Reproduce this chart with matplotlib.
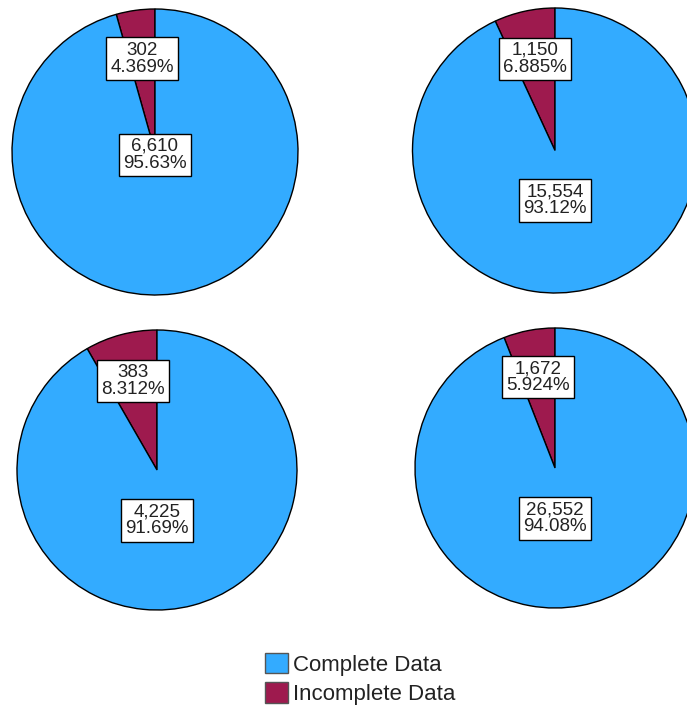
import matplotlib
matplotlib.use("Agg")
import matplotlib.pyplot as plt
from matplotlib.patches import Patch
import numpy as np

plt.rcParams['font.family'] = ['Liberation Sans', 'DejaVu Sans']

categories = ["Complete Data", "Incomplete Data"]
complete_counts = [6610, 15554, 4225, 26552]
incomplete_counts = [302, 1150, 383, 1672]
complete_pct = ["95.63%", "93.12%", "91.69%", "94.08%"]
incomplete_pct = ["4.369%", "6.885%", "8.312%", "5.924%"]

colors = {"Complete Data": "#33ABFF", "Incomplete Data": "#9E1A4E"}

W, H = 687, 713
fig = plt.figure(figsize=(W / 100, H / 100), dpi=100)

# (center x px, center y px, radius px)
layout = [(155, 152, 143), (555, 150.5, 142.5), (157, 470, 140), (555, 468, 140)]
complete_label_dist = [0.02, 0.35, 0.36, 0.36]

box = dict(boxstyle="square,pad=0.22", fc="white", ec="black", lw=1.0)

for i, (cx, cy, r) in enumerate(layout):
    ax = fig.add_axes([(cx - r) / W, 1 - (cy + r) / H, 2 * r / W, 2 * r / H])
    vals = [incomplete_counts[i], complete_counts[i]]
    wedges, _ = ax.pie(vals, colors=[colors["Incomplete Data"], colors["Complete Data"]],
                       startangle=90, counterclock=True,
                       wedgeprops=dict(edgecolor="black", linewidth=1.0))
    for w in wedges:
        w.set_clip_on(False)
    ax.set_xlim(-1, 1)
    ax.set_ylim(-1, 1)
    ax.set_aspect("equal")
    ax.axis("off")
    total = sum(vals)
    inc_mid = np.deg2rad(90 + 360 * vals[0] / total / 2)
    ax.text(0.66 * np.cos(inc_mid), 0.66 * np.sin(inc_mid),
            f"{incomplete_counts[i]:,}\n{incomplete_pct[i]}",
            ha="center", va="center", fontsize=13.5, linespacing=1.0,
            color="#222222", bbox=box)
    ax.text(0, -complete_label_dist[i],
            f"{complete_counts[i]:,}\n{complete_pct[i]}",
            ha="center", va="center", fontsize=13.5, linespacing=1.0,
            color="#222222", bbox=box)

handles = [Patch(facecolor=colors[c], edgecolor="#555555", label=c) for c in categories]
fig.legend(handles=handles, loc="center", bbox_to_anchor=(0.524, 1 - 679 / H),
           frameon=False, fontsize=16, handlelength=1.05, handleheight=1.05,
           handletextpad=0.2, labelspacing=0.3, borderpad=0, labelcolor="#222222")

fig.savefig("out.png", dpi=100)
